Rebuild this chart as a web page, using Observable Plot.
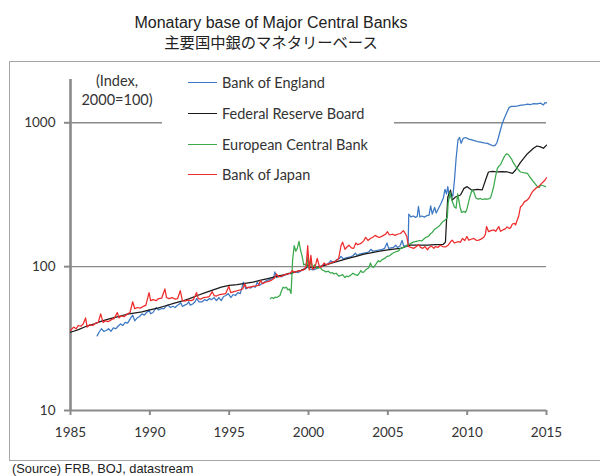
<!DOCTYPE html>
<html><head><meta charset="utf-8">
<script src="https://cdn.jsdelivr.net/npm/d3@7"></script>
<script src="https://cdn.jsdelivr.net/npm/@observablehq/plot@0.6"></script>
<style>
html,body{margin:0;padding:0;background:#fff;}
body{width:600px;height:476px;overflow:hidden;position:relative;font-family:"Liberation Sans",Arial,sans-serif;color:#222;}
.abs{position:absolute;white-space:nowrap;}
#t1{left:0;width:542px;top:14px;text-align:center;font-size:16px;line-height:18px;}
#t2{left:0;width:542px;top:32.5px;text-align:center;font-size:15.3px;line-height:16px;font-family:"Noto Sans CJK JP",sans-serif;}
#frame{left:9px;top:61px;width:600px;height:398px;border-top:1.5px solid #a6a6a6;border-left:1.5px solid #a6a6a6;border-bottom:1.5px solid #a6a6a6;}
#chart{left:0;top:62px;}
#legend{left:162px;top:68px;width:232px;height:122px;background:#fff;font-family:Lato,sans-serif;font-size:14.5px;color:#333;}
.item{position:absolute;left:0;height:16px;}
.swatch{position:absolute;left:26px;top:7px;width:29px;height:0;border-top:1.5px solid #000;}
.lab{position:absolute;left:60px;top:0;line-height:16px;}
#note{left:66px;width:102px;top:72px;text-align:center;font-family:Lato,sans-serif;font-size:14.5px;line-height:18.5px;color:#333;}
#source{left:12px;top:462px;font-size:12.8px;line-height:13px;color:#222;}
</style></head>
<body>
<div id="frame" class="abs"></div>
<div id="t1" class="abs"></div>
<div id="t2" class="abs"></div>
<div id="chart" class="abs"></div>
<div id="note" class="abs"></div>
<div id="legend" class="abs"></div>
<div id="source" class="abs"></div>
<script>
const titleEn = "Monatary base of Major Central Banks";
const titleJa = "主要国中銀のマネタリーベース";
const noteLines = ["(Index,", "2000=100)"];
const sourceText = "(Source) FRB, BOJ, datastream";

const bankNames = ["Bank of England", "Federal Reserve Board", "European Central Bank", "Bank of Japan"];
const bankColors = ["#3c78c3", "#1a1a1a", "#3aa94c", "#ee2b2b"];
const xTicks = [1985, 1990, 1995, 2000, 2005, 2010, 2015];
const yTicks = [10, 100, 1000];
const gridValues = [100, 1000];

// [year, index (2000=100)]
const bankOfEngland = [
[1986.68,33],[1986.8,35],[1986.95,37],[1987.1,35.5],[1987.25,36],[1987.4,37],[1987.55,35.5],[1987.7,37.5],[1987.85,37],[1988.0,38.5],
[1988.15,40],[1988.3,39],[1988.45,41],[1988.6,40.5],[1988.8,44],[1988.92,46],[1989.05,42],[1989.2,44],[1989.35,45],[1989.5,47],
[1989.65,46],[1989.8,48],[1989.95,50],[1990.05,47],[1990.2,48],[1990.4,52],[1990.55,50],[1990.7,51],[1990.9,51],[1991.0,53],
[1991.15,54],[1991.3,52],[1991.45,53],[1991.6,52],[1991.75,54],[1991.95,56],[1992.05,53],[1992.2,54],[1992.35,55],[1992.45,57],
[1992.55,54],[1992.7,55],[1992.85,57],[1992.95,60],[1993.1,57],[1993.3,57],[1993.45,59],[1993.6,58],[1993.75,60],[1993.9,59],
[1994.05,61],[1994.2,58],[1994.35,61],[1994.5,58],[1994.65,62],[1994.8,63],[1994.95,65],[1995.1,61],[1995.25,64],[1995.4,63],
[1995.55,66],[1995.7,65],[1995.9,78],[1996.05,70],[1996.2,72],[1996.35,71],[1996.5,73],[1996.65,72],[1996.77,78],[1996.9,74],
[1997.05,76],[1997.2,78],[1997.35,80],[1997.5,81],[1997.65,82],[1997.8,84],[1997.88,92],[1998.0,84],[1998.15,86],[1998.3,85],
[1998.45,87],[1998.6,88],[1998.76,90],[1998.9,89],[1999.05,91],[1999.2,92],[1999.35,91],[1999.5,93],[1999.6,95],[1999.8,97],
[1999.95,100],[2000.1,96],[2000.3,95],[2000.5,97],[2000.65,98],[2000.8,100],[2000.95,104],[2001.07,103],[2001.25,105],[2001.4,110],
[2001.5,108],[2001.65,109],[2001.8,112],[2001.95,114],[2002.05,118],[2002.2,113],[2002.35,115],[2002.5,116],[2002.65,117],[2002.8,119],
[2002.95,124],[2003.05,120],[2003.2,122],[2003.35,123],[2003.5,124],[2003.65,125],[2003.8,127],[2003.95,132],[2004.05,128],[2004.2,129],
[2004.35,130],[2004.5,131],[2004.65,132],[2004.8,134],[2004.95,146],[2005.05,134],[2005.2,135],[2005.35,136],[2005.5,141],[2005.6,136],
[2005.75,138],[2005.9,152],[2006.0,139],[2006.15,140],[2006.28,142],[2006.32,232],[2006.45,222],[2006.6,225],[2006.75,220],[2006.85,223],
[2006.93,262],[2007.02,222],[2007.15,225],[2007.3,221],[2007.45,226],[2007.6,228],[2007.7,265],[2007.8,232],[2007.95,258],[2008.05,236],
[2008.2,255],[2008.35,275],[2008.5,300],[2008.6,345],[2008.7,320],[2008.78,360],[2008.88,300],[2008.98,320],[2009.1,310],[2009.2,400],
[2009.3,560],[2009.42,760],[2009.52,790],[2009.62,720],[2009.75,780],[2009.9,790],[2010.1,770],[2010.3,760],[2010.5,750],[2010.65,740],
[2010.85,735],[2011.05,725],[2011.28,720],[2011.45,705],[2011.66,690],[2011.78,700],[2011.88,730],[2011.97,790],[2012.07,870],[2012.2,980],
[2012.35,1080],[2012.5,1180],[2012.65,1280],[2012.8,1300],[2013.0,1300],[2013.2,1310],[2013.4,1325],[2013.6,1330],[2013.8,1350],[2014.0,1340],
[2014.2,1360],[2014.4,1355],[2014.62,1370],[2014.81,1330],[2014.9,1380],[2015.0,1375]
];

const federalReserve = [
[1985.0,35],[1985.5,36.5],[1986.0,38.5],[1986.5,40],[1987.0,42],[1987.5,43.5],[1988.0,45],[1988.5,46.5],[1989.0,47.5],[1989.5,48.5],
[1990.0,50],[1990.5,51.5],[1991.0,53.5],[1991.5,55.5],[1992.0,57.5],[1992.5,60],[1993.0,63],[1993.5,66],[1994.0,69],[1994.5,72],
[1995.0,74],[1995.5,75],[1996.0,76.5],[1996.5,78],[1997.0,80.5],[1997.5,83],[1998.0,85.5],[1998.5,88],[1999.0,91],[1999.5,94],
[1999.8,97],[1999.95,103],[2000.1,99],[2000.5,99],[2001.0,102],[2001.5,106],[2002.0,110],[2002.5,114],[2003.0,118],[2003.5,122],
[2004.0,125],[2004.5,128],[2005.0,131],[2005.5,133],[2005.8,134],[2006.4,141],[2007.0,141],[2007.5,141],[2008.0,142],[2008.5,143],
[2008.63,148],[2008.7,210],[2008.78,305],[2008.95,340],[2009.06,290],[2009.26,305],[2009.58,315],[2009.8,350],[2010.0,360],[2010.3,340],
[2010.65,345],[2010.95,342],[2011.16,400],[2011.34,455],[2011.6,460],[2011.91,455],[2012.2,458],[2012.54,455],[2012.86,445],[2013.05,470],
[2013.36,530],[2013.8,610],[2014.18,665],[2014.4,690],[2014.62,680],[2014.81,665],[2015.0,700]
];

const europeanCentralBank = [
[1997.6,60],[1997.7,61],[1997.8,60],[1997.9,61.5],[1998.0,61],[1998.1,62],[1998.2,63],[1998.3,68],[1998.4,72],[1998.5,71],
[1998.6,72],[1998.7,69],[1998.8,70],[1998.9,65],[1999.0,112],[1999.1,140],[1999.2,128],[1999.3,135],[1999.4,150],[1999.5,130],
[1999.6,118],[1999.7,103],[1999.8,104],[1999.9,100],[1999.97,120],[2000.05,97],[2000.15,110],[2000.25,99],[2000.4,103],[2000.55,97],
[2000.7,100],[2000.85,95],[2000.95,94],[2001.1,92],[2001.25,93],[2001.4,90],[2001.5,91],[2001.6,89],[2001.75,90],[2001.9,86],
[2002.05,87],[2002.15,88],[2002.3,84],[2002.4,86],[2002.5,85],[2002.65,87],[2002.8,90],[2002.95,88],[2003.1,87],[2003.2,90],
[2003.3,94],[2003.4,91],[2003.5,92],[2003.65,96],[2003.8,98],[2003.9,106],[2004.0,100],[2004.1,99],[2004.25,104],[2004.4,110],
[2004.5,108],[2004.65,112],[2004.85,115],[2004.95,118],[2005.1,119],[2005.3,124],[2005.5,127],[2005.65,128],[2005.8,134],[2006.0,136],
[2006.2,140],[2006.4,144],[2006.6,148],[2006.8,150],[2007.0,152],[2007.15,151],[2007.25,155],[2007.4,160],[2007.55,162],[2007.7,170],
[2007.8,173],[2007.95,182],[2008.05,185],[2008.2,190],[2008.3,195],[2008.45,205],[2008.6,210],[2008.75,220],[2008.8,275],[2008.92,330],
[2009.0,300],[2009.08,280],[2009.2,260],[2009.3,255],[2009.4,320],[2009.55,260],[2009.65,238],[2009.8,242],[2009.9,238],[2010.0,255],
[2010.15,300],[2010.3,340],[2010.42,330],[2010.55,300],[2010.7,295],[2010.84,298],[2010.95,293],[2011.1,296],[2011.3,295],[2011.47,300],
[2011.58,330],[2011.66,355],[2011.8,430],[2011.9,480],[2012.0,500],[2012.1,510],[2012.2,540],[2012.3,570],[2012.42,600],[2012.5,610],
[2012.6,600],[2012.7,580],[2012.8,560],[2012.9,530],[2013.05,500],[2013.17,480],[2013.36,455],[2013.55,450],[2013.8,445],[2013.95,420],
[2014.1,400],[2014.3,375],[2014.43,360],[2014.55,355],[2014.62,370],[2014.8,365],[2014.94,360]
];

const bankOfJapan = [
[1985.0,36],[1985.2,38],[1985.35,37],[1985.5,39],[1985.65,38.5],[1985.8,40],[1985.95,44],[1986.05,38],[1986.2,39.5],[1986.4,39],
[1986.6,40.5],[1986.75,41],[1986.9,47],[1987.05,41],[1987.2,42],[1987.4,41.5],[1987.6,43],[1987.75,43.5],[1987.95,48],[1988.05,44],
[1988.2,45.5],[1988.4,45],[1988.6,47],[1988.75,48],[1988.92,57],[1989.05,51],[1989.2,52],[1989.4,51.5],[1989.6,53],[1989.75,54],
[1989.95,66],[1990.05,58],[1990.2,59],[1990.4,58],[1990.55,60],[1990.75,60.5],[1990.95,70],[1991.05,61],[1991.2,60],[1991.4,61],
[1991.6,59.5],[1991.75,60],[1991.92,68],[1992.05,58],[1992.2,57.5],[1992.4,58.5],[1992.6,58],[1992.75,59],[1992.95,66],[1993.05,60],
[1993.2,59.5],[1993.4,61],[1993.6,61.5],[1993.75,62],[1993.93,67],[1994.05,63],[1994.2,62.5],[1994.4,64],[1994.6,64.5],[1994.78,65],
[1994.98,73],[1995.1,66],[1995.3,67],[1995.5,68],[1995.7,69],[1995.85,70],[1995.98,76],[1996.1,71],[1996.3,72],[1996.5,73],
[1996.7,73.5],[1996.85,74],[1996.98,80],[1997.1,76],[1997.3,78],[1997.5,79],[1997.7,81],[1997.85,83],[1997.98,89],[1998.1,85],
[1998.3,86],[1998.5,88],[1998.7,89],[1998.85,90],[1998.98,94],[1999.1,91],[1999.3,93],[1999.5,94],[1999.7,95],[1999.85,100],
[1999.95,140],[2000.05,95],[2000.15,120],[2000.25,96],[2000.4,98],[2000.55,114],[2000.7,99],[2000.85,100],[2000.98,106],[2001.1,103],
[2001.3,105],[2001.5,107],[2001.7,109],[2001.9,114],[2002.05,140],[2002.15,148],[2002.3,132],[2002.45,138],[2002.55,141],[2002.7,135],
[2002.85,134],[2002.98,146],[2003.1,142],[2003.3,145],[2003.48,151],[2003.6,160],[2003.75,152],[2003.9,157],[2004.05,160],[2004.2,165],
[2004.35,161],[2004.5,160],[2004.65,163],[2004.85,168],[2004.98,175],[2005.1,166],[2005.3,168],[2005.45,165],[2005.6,168],[2005.8,170],
[2005.98,178],[2006.1,170],[2006.2,162],[2006.3,138],[2006.45,136],[2006.63,134],[2006.8,138],[2006.95,142],[2007.06,136],[2007.2,134],
[2007.35,138],[2007.5,131],[2007.6,136],[2007.75,139],[2007.9,134],[2008.0,138],[2008.15,136],[2008.3,141],[2008.45,138],[2008.63,137],
[2008.8,141],[2008.98,150],[2009.06,153],[2009.2,146],[2009.4,149],[2009.58,148],[2009.7,157],[2009.85,152],[2009.98,162],[2010.1,153],
[2010.25,155],[2010.42,157],[2010.6,152],[2010.73,153],[2010.9,156],[2011.05,160],[2011.15,168],[2011.22,190],[2011.35,175],[2011.5,178],
[2011.68,180],[2011.8,176],[2011.99,190],[2012.1,176],[2012.25,180],[2012.4,183],[2012.52,189],[2012.65,184],[2012.73,186],[2012.85,198],
[2012.98,200],[2013.05,195],[2013.15,210],[2013.25,225],[2013.36,260],[2013.5,270],[2013.6,282],[2013.78,290],[2013.9,300],[2014.0,315],
[2014.1,330],[2014.2,340],[2014.35,352],[2014.5,360],[2014.62,372],[2014.75,385],[2014.87,395],[2015.0,415]
];

const seriesData = [bankOfEngland, federalReserve, europeanCentralBank, bankOfJapan];
const rows = seriesData.flatMap((s, i) => s.map(([year, value]) => ({bank: bankNames[i], year, value})));

document.getElementById("t1").textContent = titleEn;
document.getElementById("t2").textContent = titleJa;
document.getElementById("source").textContent = sourceText;
document.getElementById("note").innerHTML = noteLines.join("<br>");

const legend = document.getElementById("legend");
bankNames.forEach((name, i) => {
  const item = document.createElement("div");
  item.className = "item";
  item.style.top = (7 + i * 30.8) + "px";
  item.innerHTML = `<div class="swatch" style="border-top-color:${bankColors[i]}"></div><div class="lab"></div>`;
  item.querySelector(".lab").textContent = name;
  legend.appendChild(item);
});

const axisColor = "#8a8a8a";
const chart = Plot.plot({
  width: 600,
  height: 398,
  marginLeft: 70,
  marginRight: 54,
  marginTop: 17,
  marginBottom: 50,
  style: {fontFamily: "Lato, sans-serif", fontSize: "13px", color: "#333", background: "transparent"},
  x: {domain: [1985, 2015], label: null},
  y: {type: "log", domain: [10, 2000], label: null},
  color: {domain: bankNames, range: bankColors},
  marks: [
    Plot.ruleY(gridValues, {stroke: axisColor, strokeWidth: 1.4}),
    Plot.ruleY([10], {stroke: axisColor, strokeWidth: 2.2}),
    Plot.ruleX([1985], {stroke: axisColor, strokeWidth: 2.6}),
    Plot.axisY(yTicks, {tickSize: 6, tickPadding: 9, stroke: axisColor, strokeWidth: 2, tickFormat: d => String(d), fill: "#333", fontSize: 13.5, label: null}),
    Plot.axisX(xTicks, {tickSize: 5, tickPadding: 12, stroke: axisColor, strokeWidth: 2, tickFormat: d => String(d), fill: "#333", fontSize: 13.5, label: null}),
    Plot.lineY(rows, {x: "year", y: "value", z: "bank", stroke: "bank", strokeWidth: 1.25, strokeLinejoin: "round"})
  ]
});
document.getElementById("chart").appendChild(chart);
</script>
</body></html>
